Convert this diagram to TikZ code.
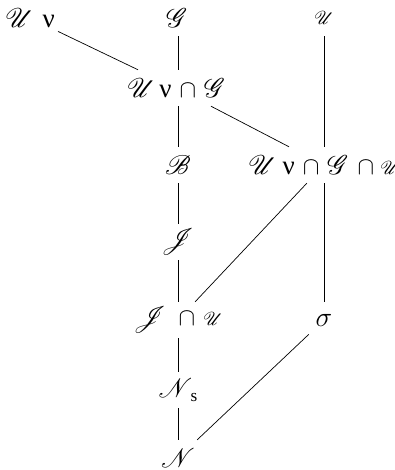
\documentclass[tikz,border=0pt]{standalone}
\usepackage{fontspec}
\usepackage{graphicx}
\usepackage{mathrsfs}
\setmainfont{Liberation Serif}
\newcommand{\bscr}[1]{\scalebox{1.3}{$\mathscr{#1}$}}
\newcommand{\sscr}[1]{\scalebox{0.9}{$\mathscr{#1}$}}
\newcommand{\capsym}{\scalebox{1.2}{$\cap$}}
\newcommand{\nusym}{\scalebox{1.3}{ν}}
\begin{document}
\begin{tikzpicture}[x=1pt,y=-1pt,
  lbl/.style={inner xsep=3pt,inner ysep=0pt,minimum height=36pt,font=\huge},
  edge/.style={line width=0.7pt}]
\useasboundingbox (0,0) rectangle (395,470);
\node[lbl] (UV)  at (30,18)  {\bscr{U}\kern9pt\nusym};
\node[lbl] (G)   at (177,18) {\bscr{G}};
\node[lbl] (Us)  at (324,18) {\sscr{U}};
\node[lbl] (UG)  at (176,88) {\bscr{U}\kern4pt\nusym\kern8pt\capsym\kern8pt\bscr{G}};
\node[lbl] (B)   at (178,165) {\bscr{B}};
\node[lbl] (UGU) at (324,165) {\bscr{U}\kern6pt\nusym\kern8pt\capsym\kern8pt\bscr{G}\kern9pt\capsym\kern6pt\sscr{U}};
\node[lbl] (J)   at (178,242) {\bscr{J}};
\node[lbl] (JU)  at (178,320) {\bscr{J}\kern12pt\capsym\kern8pt\sscr{U}};
\node[lbl,minimum width=30pt] (sig) at (324,320) {\scalebox{1.35}{$\sigma$}};
\node[lbl] (Ns)  at (178,390) {\bscr{N}\kern-2pt\raisebox{-4pt}{\LARGE s}};
\node[lbl] (N)   at (178,458) {\bscr{N}};
\draw[edge] (UV) -- (UG);
\draw[edge] (G.south -| J) -- (UG.north -| J);
\draw[edge] (UG.south -| J) -- (B);
\draw[edge] (UG) -- (UGU);
\draw[edge] (Us.south -| Us) -- (UGU.north -| Us);
\draw[edge] (B) -- (J);
\draw[edge] (J) -- (JU.north -| J);
\draw[edge] (UGU) -- (JU);
\draw[edge] (UGU.south -| Us) -- (sig.north -| Us);
\draw[edge] (JU.south -| J) -- (Ns);
\draw[edge] (Ns) -- (N);
\draw[edge] (sig) -- (N);
\end{tikzpicture}
\end{document}
